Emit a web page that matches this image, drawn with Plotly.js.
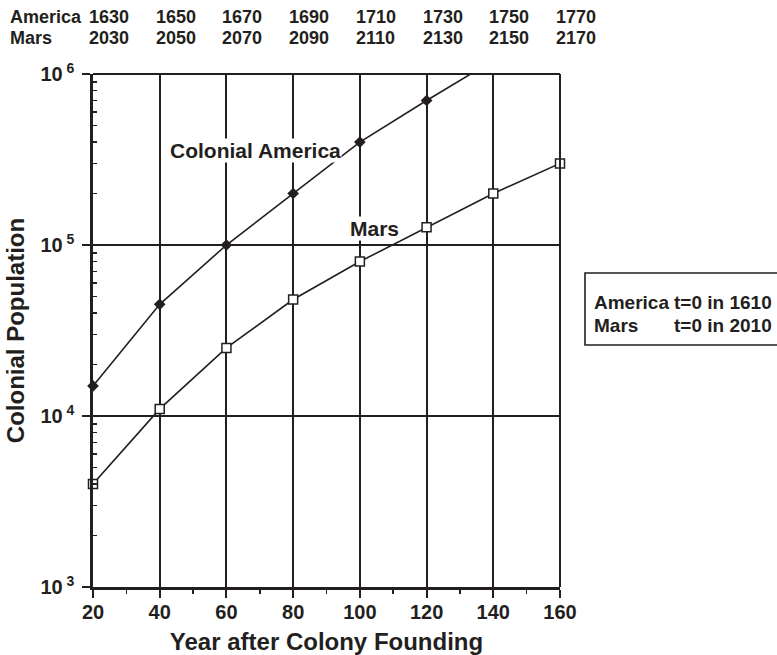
<!DOCTYPE html>
<html>
<head>
<meta charset="utf-8">
<script src="https://cdn.plot.ly/plotly-3.0.1.min.js"></script>
<style>html,body{margin:0;padding:0;background:#fff;}#chart{width:777px;height:655px;}</style>
</head>
<body>
<div id="chart"></div>
<script>
// ---- data ----
const yearsAfterFounding = [20, 40, 60, 80, 100, 120, 140, 160];
const americaPopulation = [15000, 45000, 100000, 200000, 400000, 700000, 1200000];
const marsPopulation = [4000, 11000, 25000, 48000, 80000, 127000, 200000, 300000];
const americaCalendarYears = [1630, 1650, 1670, 1690, 1710, 1730, 1750, 1770];
const marsCalendarYears = [2030, 2050, 2070, 2090, 2110, 2130, 2150, 2170];
const yTickValues = [1000, 10000, 100000, 1000000];
const yTickExponents = ['3', '4', '5', '6'];
const americaLabel = 'Colonial America';
const marsLabel = 'Mars';
const boxRowNames = ['America', 'Mars'];
const boxRowTexts = ['t=0 in 1610', 't=0 in 2010'];

const INK = '#231f20';
const FONT = 'Liberation Sans, Arial, sans-serif';
const YMAX = 1e6;

const yMinor = [];
for (let e = 3; e < 6; e++) for (let m = 2; m <= 9; m++) yMinor.push(m * Math.pow(10, e));
const xMinor = [];
for (let i = 0; i < yearsAfterFounding.length - 1; i++) xMinor.push((yearsAfterFounding[i] + yearsAfterFounding[i + 1]) / 2);

const americaX = yearsAfterFounding.slice(0, americaPopulation.length);
const inRangeIdx = americaPopulation.map((v, i) => i).filter(i => americaPopulation[i] <= YMAX);
const marsX = marsPopulation.map((v, i) => yearsAfterFounding[i]);

const traces = [
  {x: americaX, y: americaPopulation, mode: 'lines', line: {color: INK, width: 1.6}, showlegend: false},
  {x: marsX, y: marsPopulation, mode: 'lines', line: {color: INK, width: 1.6}, showlegend: false},
  {x: inRangeIdx.map(i => americaX[i]), y: inRangeIdx.map(i => americaPopulation[i]), mode: 'markers', cliponaxis: false,
   marker: {symbol: 'diamond', size: 9, color: INK, line: {color: INK, width: 0}}, showlegend: false},
  {x: marsX, y: marsPopulation, mode: 'markers', cliponaxis: false,
   marker: {symbol: 'square', size: 9, color: '#ffffff', line: {color: INK, width: 1.5}}, showlegend: false}
];

const L = 93, R = 560, T = 74, B = 587;
const W = R - L, H = B - T;
const px = x => (x - L) / W;
const py = y => (B - y) / H;

const annotations = [];
// top calendar rows
const rowY = [17, 38];
boxRowNames.forEach((name, r) => {
  annotations.push({xref: 'paper', yref: 'paper', x: px(9), y: py(rowY[r]), xanchor: 'left', yanchor: 'middle',
    text: name, showarrow: false, borderpad: 0, font: {family: FONT, size: 18, color: INK, weight: 700}});
});
[americaCalendarYears, marsCalendarYears].forEach((arr, r) => {
  arr.forEach((yr, i) => {
    annotations.push({xref: 'x', yref: 'paper', x: yearsAfterFounding[i], xshift: -5, y: py(rowY[r]), xanchor: 'left', yanchor: 'middle',
      text: String(yr), showarrow: false, borderpad: 0, font: {family: FONT, size: 18, color: INK, weight: 700}});
  });
});
// series labels
annotations.push({xref: 'x', yref: 'y', x: 68.6, y: 5.55, text: americaLabel, showarrow: false, bgcolor: '#ffffff', borderpad: 0,
  font: {family: FONT, size: 21, color: INK, weight: 700}});
annotations.push({xref: 'x', yref: 'y', x: 104.3, y: 5.094, text: marsLabel, showarrow: false, bgcolor: '#ffffff', borderpad: 0,
  font: {family: FONT, size: 21, color: INK, weight: 700}});
// note box text
const boxRowsY = [302, 325];
boxRowNames.forEach((name, r) => {
  annotations.push({xref: 'paper', yref: 'paper', x: px(593), y: py(boxRowsY[r]), xanchor: 'left', yanchor: 'middle',
    text: name, showarrow: false, borderpad: 0, font: {family: FONT, size: 19, color: INK, weight: 700}});
  annotations.push({xref: 'paper', yref: 'paper', x: px(673), y: py(boxRowsY[r]), xanchor: 'left', yanchor: 'middle',
    text: boxRowTexts[r], showarrow: false, borderpad: 0, font: {family: FONT, size: 19, color: INK, weight: 700}});
});

const shapes = [
  {type: 'line', xref: 'paper', yref: 'paper', x0: 0, x1: 1, y0: 1, y1: 1, line: {color: INK, width: 2}},
  {type: 'line', xref: 'paper', yref: 'paper', x0: 1, x1: 1, y0: 0, y1: 1, line: {color: INK, width: 2}},
  {type: 'rect', xref: 'paper', yref: 'paper', x0: px(585), x1: px(800), y0: py(345), y1: py(273), line: {color: INK, width: 1.6}, fillcolor: 'rgba(0,0,0,0)'}
];

const layout = {
  width: 777, height: 655,
  margin: {l: L, r: 777 - R, t: T, b: 655 - B, pad: 0},
  paper_bgcolor: '#ffffff', plot_bgcolor: '#ffffff',
  showlegend: false,
  font: {family: FONT, color: INK},
  xaxis: {
    range: [20, 160], tickvals: yearsAfterFounding, ticktext: yearsAfterFounding.map(String),
    ticks: 'outside', ticklen: 8, tickwidth: 2, tickcolor: INK,
    showgrid: true, gridcolor: INK, gridwidth: 2,
    showline: true, linecolor: INK, linewidth: 2.6, zeroline: false, mirror: false,
    tickfont: {family: FONT, size: 20, color: INK, weight: 700},
    ticklabelstandoff: -3,
    minor: {tickvals: xMinor, ticks: 'outside', ticklen: 4, tickwidth: 1.5, tickcolor: INK, showgrid: false},
    title: {text: 'Year after Colony Founding', standoff: 12, font: {family: FONT, size: 24, color: INK, weight: 700}},
    fixedrange: true
  },
  yaxis: {
    type: 'log', range: [3, 6], tickvals: yTickValues, ticktext: yTickExponents.map(e => '10<sup>\u00a0' + e + '</sup>'),
    ticks: 'outside', ticklen: 8, tickwidth: 2, tickcolor: INK,
    showgrid: true, gridcolor: INK, gridwidth: 2,
    showline: true, linecolor: INK, linewidth: 2.6, zeroline: false, mirror: false,
    tickfont: {family: FONT, size: 20, color: INK, weight: 700},
    ticklabelstandoff: 4,
    minor: {tickvals: yMinor, ticks: 'inside', ticklen: 4, tickwidth: 1.5, tickcolor: INK, showgrid: false},
    title: {text: 'Colonial Population', standoff: 9, font: {family: FONT, size: 24, color: INK, weight: 700}},
    fixedrange: true
  },
  annotations: annotations,
  shapes: shapes
};

Plotly.newPlot('chart', traces, layout, {displayModeBar: false, staticPlot: true});
</script>
</body>
</html>
